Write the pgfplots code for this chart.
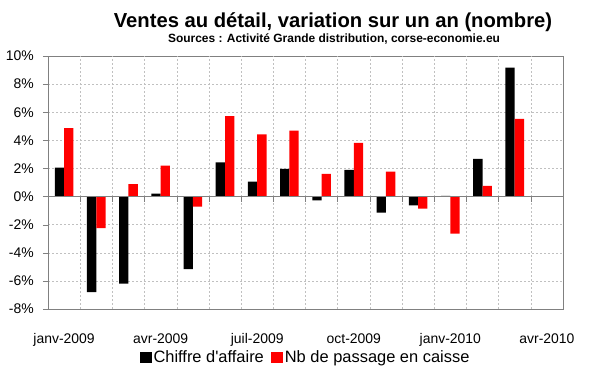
\documentclass[border=0pt]{standalone}
\usepackage{pgfplots}
\pgfplotsset{compat=1.18}
\usepackage{fontspec}
\setmainfont{Liberation Sans}
\definecolor{framegray}{RGB}{128,128,128}
\definecolor{gridgray}{RGB}{192,192,192}
\definecolor{barred}{RGB}{255,0,0}
\begin{document}
\begin{tikzpicture}
\path[use as bounding box] (0bp,0bp) rectangle (600bp,372bp);
\node[anchor=base,inner sep=0pt,font=\bfseries\fontsize{20.3}{22}\selectfont] at (333bp,344bp) {Ventes au détail, variation sur un an (nombre)};
\node[anchor=base,inner sep=0pt,font=\bfseries\fontsize{12}{13}\selectfont] at (334bp,329bp) {Sources : Activité Grande distribution, corse-economie.eu};
\begin{axis}[
  at={(48bp,63bp)}, anchor=south west,
  scale only axis, width=515bp, height=253bp,
  xmin=0, xmax=16, ymin=-8, ymax=10,
  ybar=0pt, bar width=9.3bp,
  axis line style={framegray},
  ytick={-8,-6,-4,-2,0,2,4,6,8,10},
  yticklabels={-8\%,-6\%,-4\%,-2\%,0\%,2\%,4\%,6\%,8\%,10\%},
  ymajorgrids,
  grid style={gridgray, dash pattern=on 2bp off 2bp},
  ytick pos=left, tick align=outside, major tick length=5bp,
  ytick style={framegray},
  yticklabel style={font=\fontsize{14}{16}\selectfont, inner sep=0pt, xshift=-9bp},
  xtick={0.5,3.5,6.5,9.5,12.5,15.5},
  xticklabels={janv-2009,avr-2009,juil-2009,oct-2009,janv-2010,avr-2010},
  xtick style={draw=none},
  xticklabel style={font=\fontsize{14}{16}\selectfont, anchor=base, inner sep=0pt, yshift=-29bp},
  extra x ticks={1,2,3,4,5,6,7,8,9,10,11,12,13,14,15},
  extra x tick labels={},
  extra x tick style={xmajorgrids, xtick style={draw=none}},
  legend style={draw=none, fill=none, at={(0.5,-0.192)}, anchor=center,
    legend columns=2, font=\fontsize{16.5}{18}\selectfont, inner sep=0pt,
    /tikz/every even column/.append style={column sep=5bp},
    nodes={inner sep=2bp}},
  legend image code/.code={\fill[#1] (0bp,-5.5bp) rectangle (12bp,5.5bp);},
  clip=false,
]
\addplot[fill=black, draw=none] coordinates {
(0.5,2.06) (1.5,-6.8) (2.5,-6.2) (3.5,0.21) (4.5,-5.17) (5.5,2.44) (6.5,1.07) (7.5,1.97)
(8.5,-0.28) (9.5,1.9) (10.5,-1.14) (11.5,-0.62) (12.5,0.05) (13.5,2.68) (14.5,9.17)};
\addlegendentry{Chiffre d\textquotesingle affaire}
\addplot[fill=barred, draw=none] coordinates {
(0.5,4.86) (1.5,-2.25) (2.5,0.88) (3.5,2.2) (4.5,-0.71) (5.5,5.73) (6.5,4.43) (7.5,4.69)
(8.5,1.61) (9.5,3.82) (10.5,1.78) (11.5,-0.85) (12.5,-2.63) (13.5,0.76) (14.5,5.52)};
\addlegendentry{Nb de passage en caisse}
\addplot[framegray, thick, sharp plot, forget plot] coordinates {(0,0) (16,0)};
\addplot[framegray, ycomb, forget plot, mark=none] coordinates {
(1,-0.36) (2,-0.36) (3,-0.36) (4,-0.36) (5,-0.36) (6,-0.36) (7,-0.36) (8,-0.36)
(9,-0.36) (10,-0.36) (11,-0.36) (12,-0.36) (13,-0.36) (14,-0.36) (15,-0.36)};
\end{axis}
\end{tikzpicture}
\end{document}
